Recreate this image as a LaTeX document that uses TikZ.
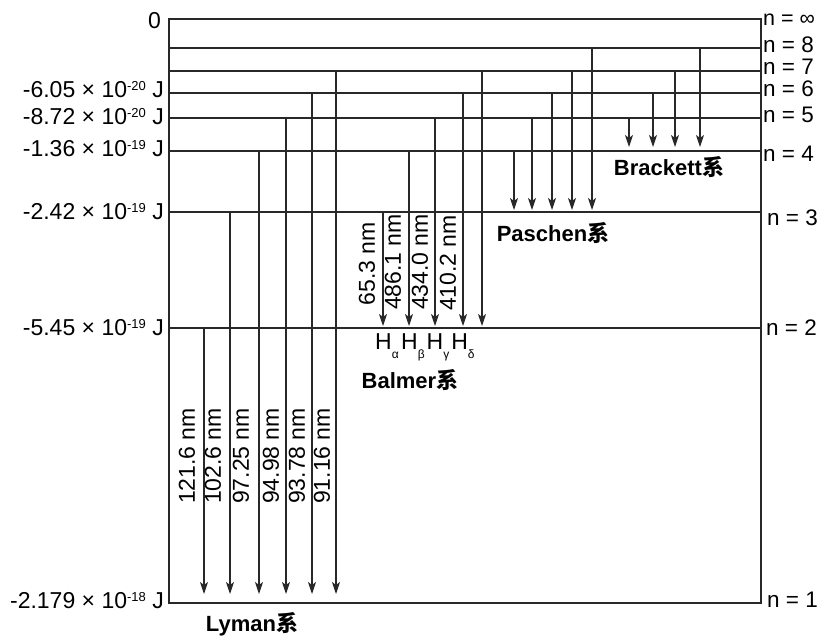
\documentclass[tikz,border=0pt]{standalone}
\usepackage{fontspec}
\setmainfont{Liberation Sans}
\newfontfamily\cjk{Noto Sans CJK SC}
\usetikzlibrary{arrows.meta}
\definecolor{levelInk}{RGB}{40,40,40}
\tikzset{
  level/.style={draw=levelInk, line width=1.1pt},
  trans/.style={-{Stealth[length=12pt,width=8pt,inset=3pt]}, draw=levelInk, line width=1.1pt, shorten >=2pt},
  lyman/.style={trans, shorten >=9pt},
  brackett/.style={trans, shorten >=4pt},
  energy/.style={anchor=east, inner sep=1pt, font=\fontsize{23}{26}\selectfont},
  qnum/.style={anchor=west, inner sep=1pt, font=\fontsize{22.5}{26}\selectfont},
  wave/.style={rotate=90, inner sep=1pt, font=\fontsize{23}{26}\selectfont},
  hline/.style={anchor=base, inner sep=0pt, font=\fontsize{23}{26}\selectfont},
  series/.style={inner sep=1pt, font=\bfseries\fontsize{22}{26}\selectfont}
}
\newcommand{\seriesxi}{{\cjk 系}}
\newcommand{\expo}[1]{\raisebox{7pt}{\fontsize{13}{14}\selectfont #1}}
\newcommand{\lsub}[1]{\raisebox{-9pt}{\fontsize{12}{13}\selectfont #1}}

\begin{document}
\begin{tikzpicture}[x=1pt, y=-1pt]
        \useasboundingbox (0,0) rectangle (822,637);
        % energy levels
        \coordinate (winf) at (169,19);  \coordinate (einf) at (761,19);
        \coordinate (w8) at (169,48);    \coordinate (e8) at (761,48);
        \coordinate (w7) at (169,71);    \coordinate (e7) at (761,71);
        \coordinate (w6) at (169,93);    \coordinate (e6) at (761,93);
        \coordinate (w5) at (169,118);   \coordinate (e5) at (761,118);
        \coordinate (w4) at (169,151);   \coordinate (e4) at (761,151);
        \coordinate (w3) at (169,212);   \coordinate (e3) at (761,212);
        \coordinate (w2) at (169,328);   \coordinate (e2) at (761,328);
        \coordinate (w1) at (169,603);   \coordinate (e1) at (761,603);
        \draw[level] (winf) rectangle (e1);
        \draw[level] (w8) -- (e8);
        \draw[level] (w7) -- (e7);
        \draw[level] (w6) -- (e6);
        \draw[level] (w5) -- (e5);
        \draw[level] (w4) -- (e4);
        \draw[level] (w3) -- (e3);
        \draw[level] (w2) -- (e2);

        % columns of the transitions
        \coordinate (ly1) at (204,0); \coordinate (ly2) at (230,0); \coordinate (ly3) at (259,0);
        \coordinate (ly4) at (286,0); \coordinate (ly5) at (312,0); \coordinate (ly6) at (336,0);
        \coordinate (ba1) at (383,0); \coordinate (ba2) at (409,0); \coordinate (ba3) at (435,0);
        \coordinate (ba4) at (463,0); \coordinate (ba5) at (482,0);
        \coordinate (pa1) at (514,0); \coordinate (pa2) at (532,0); \coordinate (pa3) at (552,0);
        \coordinate (pa4) at (572,0); \coordinate (pa5) at (592,0);
        \coordinate (br1) at (629,0); \coordinate (br2) at (653,0); \coordinate (br3) at (675,0);
        \coordinate (br4) at (700,0);

        % Lyman
        \draw[lyman] (ly1 |- w2) -- (ly1 |- w1);
        \draw[lyman] (ly2 |- w3) -- (ly2 |- w1);
        \draw[lyman] (ly3 |- w4) -- (ly3 |- w1);
        \draw[lyman] (ly4 |- w5) -- (ly4 |- w1);
        \draw[lyman] (ly5 |- w6) -- (ly5 |- w1);
        \draw[lyman] (ly6 |- w7) -- (ly6 |- w1);
        % Balmer
        \draw[trans] (ba1 |- w3) -- (ba1 |- w2);
        \draw[trans] (ba2 |- w4) -- (ba2 |- w2);
        \draw[trans] (ba3 |- w5) -- (ba3 |- w2);
        \draw[trans] (ba4 |- w6) -- (ba4 |- w2);
        \draw[trans] (ba5 |- w7) -- (ba5 |- w2);
        % Paschen
        \draw[trans] (pa1 |- w4) -- (pa1 |- w3);
        \draw[trans] (pa2 |- w5) -- (pa2 |- w3);
        \draw[trans] (pa3 |- w6) -- (pa3 |- w3);
        \draw[trans] (pa4 |- w7) -- (pa4 |- w3);
        \draw[trans] (pa5 |- w8) -- (pa5 |- w3);
        % Brackett
        \draw[brackett] (br1 |- w5) -- (br1 |- w4);
        \draw[brackett] (br2 |- w6) -- (br2 |- w4);
        \draw[brackett] (br3 |- w7) -- (br3 |- w4);
        \draw[brackett] (br4 |- w8) -- (br4 |- w4);

        % energies
        \node[energy] (einfl) at (162,21) {0};
        \node[energy] (e6l) at (165,90) {-6.05 × 10\expo{-20} J};
        \node[energy] (e5l) at (165,117) {-8.72 × 10\expo{-20} J};
        \node[energy] (e4l) at (165,149) {-1.36 × 10\expo{-19} J};
        \node[energy] (e3l) at (165,212) {-2.42 × 10\expo{-19} J};
        \node[energy] (e2l) at (165,328) {-5.45 × 10\expo{-19} J};
        \node[energy] (e1l) at (165,601) {-2.179 × 10\expo{-18} J};

        % quantum numbers
        \node[qnum, font=\fontsize{21.5}{26}\selectfont] (ninf) at (762,20) {n = ∞};
        \node[qnum] (n8) at (762,45) {n = 8};
        \node[qnum] (n7) at (762,67) {n = 7};
        \node[qnum] (n6) at (762,89) {n = 6};
        \node[qnum] (n5) at (762,115) {n = 5};
        \node[qnum] (n4) at (762,154) {n = 4};
        \node[qnum] (n3) at (766,218) {n = 3};
        \node[qnum] (n2) at (765,328) {n = 2};
        \node[qnum] (n1) at (766,600) {n = 1};

        % wavelengths
        \node[wave] (lam1) at (187,456) {121.6 nm};
        \node[wave] (lam2) at (213,456) {102.6 nm};
        \node[wave] (lam3) at (241,456) {97.25 nm};
        \node[wave] (lam4) at (271,456) {94.98 nm};
        \node[wave] (lam5) at (297,456) {93.78 nm};
        \node[wave] (lam6) at (322,456) {91.16 nm};
        \node[wave] (lamha) at (367,264) {65.3 nm};
        \node[wave] (lamhb) at (393,262) {486.1 nm};
        \node[wave] (lamhg) at (420,262) {434.0 nm};
        \node[wave] (lamhd) at (448,263) {410.2 nm};

        \node[hline] (ha) at (387,349) {H\lsub{α}};
        \node[hline] (hb) at (413,349) {H\lsub{β}};
        \node[hline] (hg) at (438,349) {H\lsub{γ}};
        \node[hline] (hd) at (463,349) {H\lsub{δ}};

        % series
        \node[series] (lyname) at (252,624) {Lyman\seriesxi};
        \node[series] (baname) at (410,380) {Balmer\seriesxi};
        \node[series] (paname) at (553,233) {Paschen\seriesxi};
        \node[series] (brname) at (669,167) {Brackett\seriesxi};
      \end{tikzpicture}
\end{document}
